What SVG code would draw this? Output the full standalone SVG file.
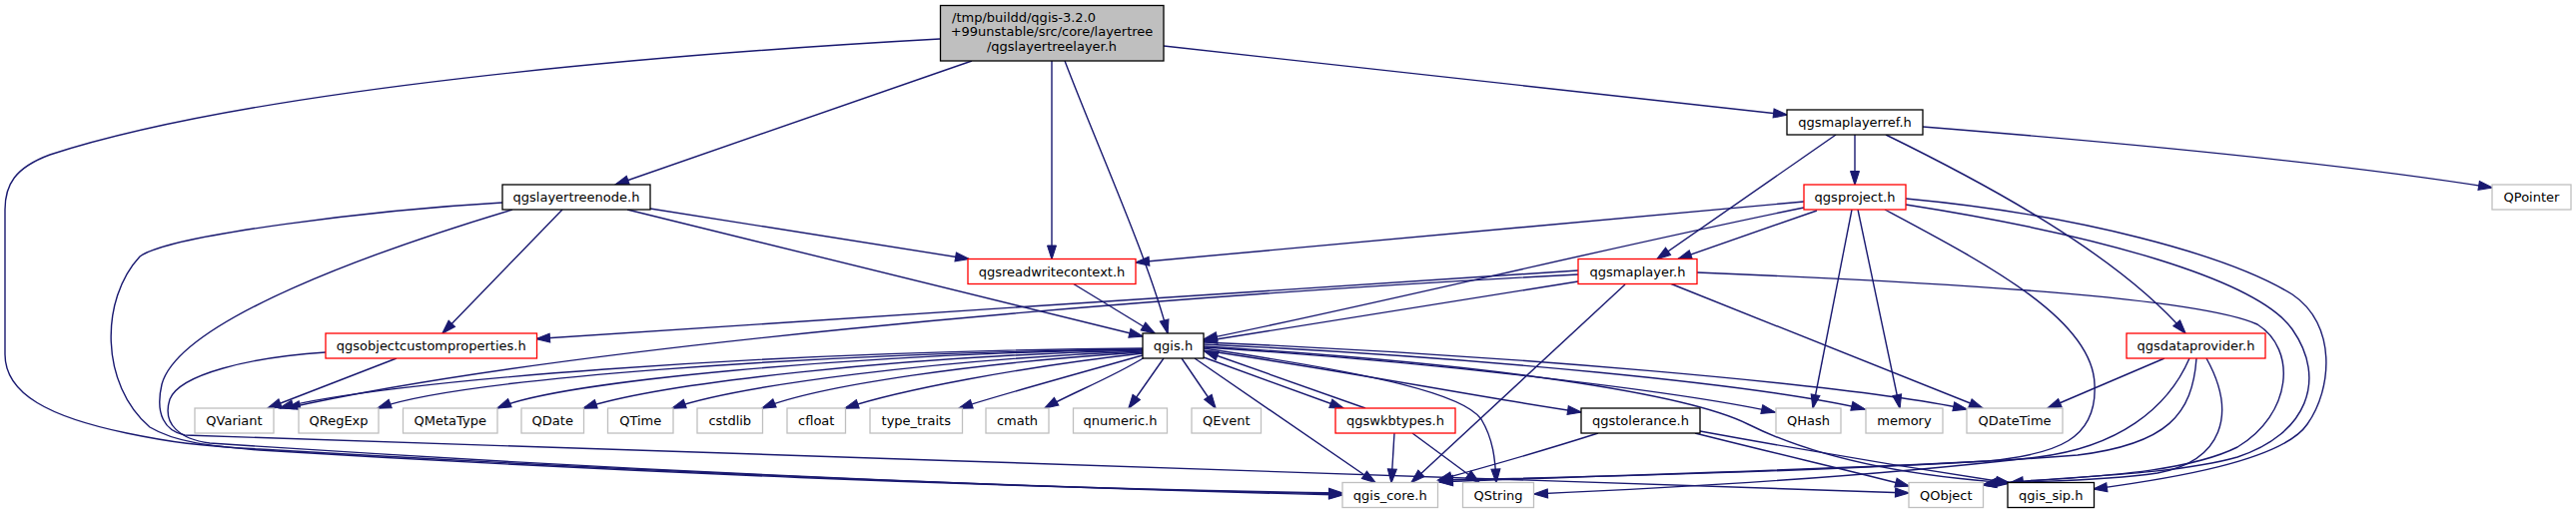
<svg xmlns="http://www.w3.org/2000/svg" width="2579" height="515" viewBox="0 0 2579 515">
<style>
.nd rect{stroke-width:1.3}
.main rect{fill:#bfbfbf;stroke:#000}
.blk rect{fill:#fff;stroke:#000}
.red rect{fill:#fff;stroke:#ff0000}
.gry rect{fill:#fff;stroke:#bfbfbf}
text{font-family:"DejaVu Sans","Liberation Sans",sans-serif;font-size:13px;fill:#000;text-anchor:middle}
#edges path{fill:none;stroke:#191970;stroke-width:1.4;marker-end:url(#arr)}
</style>
<defs>
<marker id="arr" markerUnits="userSpaceOnUse" markerWidth="14" markerHeight="10" viewBox="0 0 14 10" refX="13.5" refY="5" orient="auto" overflow="visible">
<path d="M0,0.5 L14,5 L0,9.5 z" fill="#191970" stroke="#191970" stroke-width="1"/>
</marker>
</defs>
<rect width="2579" height="515" fill="#fff"/>
<g id="edges">
<path d="M1165,46 L1789,115"/>
<path d="M973,61 L616,185"/>
<path d="M1053,61 L1053,259.5"/>
<path d="M1066,61 C1100,150 1150,260 1169,334"/>
<path d="M941,39 C650,55 250,90 50,155 C15,168 5,185 5,210 L5,355 C5,395 50,418 127,434 C170,443 200,447 260,450 C600,470 1000,488 1344,495"/>
<path d="M503,203 C380,210 170,235 140,257 C100,300 100,385 150,428 C175,443 210,447 260,451 C600,472 1000,489 1344,494"/>
<path d="M513,210 C380,250 180,320 162,385 C155,415 165,432 185,436 C700,453 1500,480 1911,494"/>
<path d="M326,353 C250,358 180,375 170,400 C162,425 180,440 210,444 C600,470 1000,488 1344,496"/>
<path d="M397,359 L268,409"/>
<path d="M563,210 L443,334"/>
<path d="M651,209 L970,259.5"/>
<path d="M628,210 L1144,337"/>
<path d="M1074,284 L1156,334"/>
<path d="M1857,135 L1857,185"/>
<path d="M1838,135 L1659,259.5"/>
<path d="M1888,135 C1990,185 2120,255 2188,334"/>
<path d="M1925,127 C2150,145 2350,165 2495,188"/>
<path d="M1806,202 L1137,263"/>
<path d="M1806,208 C1600,250 1400,300 1205,340"/>
<path d="M1819,211 L1680,259.5"/>
<path d="M1854,210 L1815,409"/>
<path d="M1860,210 L1902,409"/>
<path d="M1887,210 C1990,265 2095,320 2097,385 C2100,440 2060,455 1990,462 C1800,472 1550,478 1441,483"/>
<path d="M1908,205 C2100,235 2260,280 2295,330 C2330,380 2310,435 2240,458 C2170,478 2040,478 1985,486"/>
<path d="M1908,199 C2080,215 2230,255 2295,295 C2340,325 2335,390 2310,425 C2285,462 2170,480 2096,490"/>
<path d="M1580,271 L537,339.5"/>
<path d="M1580,275 C1100,300 550,350 287,409"/>
<path d="M1580,282 L1205,342"/>
<path d="M1627,285 L1413,483.5"/>
<path d="M1672,284 L1985,409"/>
<path d="M1699,273 C1950,283 2200,298 2260,325 C2300,350 2295,415 2240,448 C2180,478 2060,478 2012,484"/>
<path d="M2167,359 L2050,409"/>
<path d="M2192,359 C2170,410 2120,448 2040,458 C1850,480 1650,490 1536,495"/>
<path d="M2199,359 C2195,415 2170,445 2080,456 C1900,470 1600,478 1441,481"/>
<path d="M2209,359 C2240,415 2225,462 2160,474 C2090,484 2020,481 1985,486"/>
<path d="M1205,343 C1500,355 1850,385 1969,410"/>
<path d="M1205,345 C1480,358 1760,385 1867,410"/>
<path d="M1205,348 C1430,362 1680,392 1777,413"/>
<path d="M1205,347 C1500,365 1690,395 1750,425 C1800,450 1880,475 2012,484"/>
<path d="M1205,351 C1350,372 1480,398 1583,413"/>
<path d="M1205,358 L1345,409"/>
<path d="M1367,409 L1206,352"/>
<path d="M1196,359 L1377,483.5"/>
<path d="M1205,349 C1380,375 1465,395 1483,420 C1495,440 1497,460 1498,483.5"/>
<path d="M1165,359 L1130,409"/>
<path d="M1183,359 L1217,409"/>
<path d="M1146,358 C1110,380 1070,395 1046,409"/>
<path d="M1144,356 C1080,374 1000,396 960,409"/>
<path d="M1144,354 C1020,368 900,391 846,409"/>
<path d="M1144,353 C980,363 820,386 763,409"/>
<path d="M1144,352 C940,360 740,386 673,409"/>
<path d="M1144,351 C900,357 660,384 584,409"/>
<path d="M1144,350 C850,355 560,382 498,409"/>
<path d="M1144,350 C800,354 460,380 378,409"/>
<path d="M1144,349 C760,352 380,382 280,409"/>
<path d="M1600,434 C1550,450 1480,470 1440,481"/>
<path d="M1697,434 C1780,455 1870,476 1911,487"/>
<path d="M1702,432 C1800,450 1920,470 2012,484"/>
<path d="M1396,434 L1393,483.5"/>
<path d="M1414,434 L1481,483.5"/>
</g>
<g id="n0" class="nd main"><rect x="941.5" y="5.5" width="223.5" height="55.5"/><text x="953" y="21.5" style="text-anchor:start">/tmp/buildd/qgis-3.2.0</text><text x="1053" y="36">+99unstable/src/core/layertree</text><text x="1053" y="50.5">/qgslayertreelayer.h</text></g>
<g id="n1" class="nd blk"><rect x="1789" y="110" width="136" height="25"/><text x="1857" y="127">qgsmaplayerref.h</text></g>
<g id="n2" class="nd blk"><rect x="503" y="185" width="148" height="25"/><text x="577" y="202">qgslayertreenode.h</text></g>
<g id="n3" class="nd red"><rect x="1806" y="185" width="102" height="25"/><text x="1857" y="202">qgsproject.h</text></g>
<g id="n4" class="nd gry"><rect x="2495" y="185" width="79" height="25"/><text x="2534.5" y="202">QPointer</text></g>
<g id="n5" class="nd red"><rect x="969" y="259.5" width="168" height="25"/><text x="1053" y="276.5">qgsreadwritecontext.h</text></g>
<g id="n6" class="nd red"><rect x="1580" y="259.5" width="119" height="25"/><text x="1639.5" y="276.5">qgsmaplayer.h</text></g>
<g id="n7" class="nd red"><rect x="326" y="334" width="211.5" height="25"/><text x="431.75" y="351">qgsobjectcustomproperties.h</text></g>
<g id="n8" class="nd blk"><rect x="1144" y="334" width="61" height="25"/><text x="1174.5" y="351">qgis.h</text></g>
<g id="n9" class="nd red"><rect x="2129" y="334" width="139" height="25"/><text x="2198.5" y="351">qgsdataprovider.h</text></g>
<g id="n10" class="nd gry"><rect x="195" y="409" width="79" height="25"/><text x="234.5" y="426">QVariant</text></g>
<g id="n11" class="nd gry"><rect x="299" y="409" width="80" height="25"/><text x="339" y="426">QRegExp</text></g>
<g id="n12" class="nd gry"><rect x="403.5" y="409" width="94.5" height="25"/><text x="450.75" y="426">QMetaType</text></g>
<g id="n13" class="nd gry"><rect x="522" y="409" width="62.5" height="25"/><text x="553.25" y="426">QDate</text></g>
<g id="n14" class="nd gry"><rect x="608.5" y="409" width="65.5" height="25"/><text x="641.25" y="426">QTime</text></g>
<g id="n15" class="nd gry"><rect x="698" y="409" width="65.5" height="25"/><text x="730.75" y="426">cstdlib</text></g>
<g id="n16" class="nd gry"><rect x="788" y="409" width="58.5" height="25"/><text x="817.25" y="426">cfloat</text></g>
<g id="n17" class="nd gry"><rect x="871" y="409" width="92.5" height="25"/><text x="917.25" y="426">type_traits</text></g>
<g id="n18" class="nd gry"><rect x="987" y="409" width="63" height="25"/><text x="1018.5" y="426">cmath</text></g>
<g id="n19" class="nd gry"><rect x="1074.5" y="409" width="94" height="25"/><text x="1121.5" y="426">qnumeric.h</text></g>
<g id="n20" class="nd gry"><rect x="1193" y="409" width="69.5" height="25"/><text x="1227.75" y="426">QEvent</text></g>
<g id="n21" class="nd red"><rect x="1337" y="409" width="120" height="25"/><text x="1397" y="426">qgswkbtypes.h</text></g>
<g id="n22" class="nd blk"><rect x="1583" y="409" width="119" height="25"/><text x="1642.5" y="426">qgstolerance.h</text></g>
<g id="n23" class="nd gry"><rect x="1778" y="409" width="65" height="25"/><text x="1810.5" y="426">QHash</text></g>
<g id="n24" class="nd gry"><rect x="1868" y="409" width="77" height="25"/><text x="1906.5" y="426">memory</text></g>
<g id="n25" class="nd gry"><rect x="1969" y="409" width="96" height="25"/><text x="2017" y="426">QDateTime</text></g>
<g id="n26" class="nd gry"><rect x="1344" y="483.5" width="95.5" height="25"/><text x="1391.75" y="500.5">qgis_core.h</text></g>
<g id="n27" class="nd gry"><rect x="1464.5" y="483.5" width="71" height="25"/><text x="1500" y="500.5">QString</text></g>
<g id="n28" class="nd gry"><rect x="1911" y="483.5" width="74.5" height="25"/><text x="1948.25" y="500.5">QObject</text></g>
<g id="n29" class="nd blk"><rect x="2010" y="483.5" width="86.5" height="25"/><text x="2053.25" y="500.5">qgis_sip.h</text></g>
</svg>
